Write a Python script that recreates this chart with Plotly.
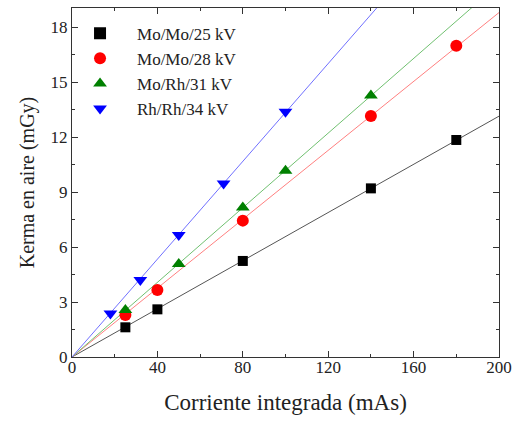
import plotly.graph_objects as go
import numpy as np

names = ["Mo/Mo/25 kV", "Mo/Mo/28 kV", "Mo/Rh/31 kV", "Rh/Rh/34 kV"]
x_mo25 = [25, 40, 80, 140, 180]
y_mo25 = [1.62, 2.6, 5.24, 9.2, 11.84]
x_mo28 = [25, 40, 80, 140, 180]
y_mo28 = [2.29, 3.65, 7.44, 13.15, 16.98]
x_rh31 = [25, 50, 80, 100, 140]
y_rh31 = [2.56, 5.07, 8.16, 10.16, 14.26]
x_rh34 = [18, 32, 50, 71, 100]
y_rh34 = [2.38, 4.2, 6.65, 9.47, 13.38]

series = [(x_mo25, y_mo25), (x_mo28, y_mo28), (x_rh31, y_rh31), (x_rh34, y_rh34)]
mcolors = ["#000000", "#ff0000", "#008000", "#0000ff"]
lcolors = ["#555555", "#ff8080", "#70c070", "#7070ff"]
symbols = ["square", "circle", "triangle-up", "triangle-down"]
sizes = [10, 12, 12, 12]

fig = go.Figure()
xfit = np.array([0, 200])
for (xs, ys), lc in zip(series, lcolors):
    xa, ya = np.array(xs, float), np.array(ys, float)
    k = (xa @ ya) / (xa @ xa)
    fig.add_trace(go.Scatter(x=xfit, y=k * xfit, mode="lines",
                             line=dict(color=lc, width=1), showlegend=False, hoverinfo="skip"))
for (xs, ys), n, mc, s, sz in zip(series, names, mcolors, symbols, sizes):
    fig.add_trace(go.Scatter(x=xs, y=ys, mode="markers", name=n,
                             marker=dict(color=mc, symbol=s, size=sz, line=dict(width=0))))

font = "Liberation Serif, Times New Roman, serif"
axis_common = dict(showline=True, linecolor="#333", linewidth=1.2, mirror="ticks",
                   ticks="inside", ticklen=6, tickwidth=1, tickcolor="#333",
                   showgrid=False, zeroline=False, automargin=False,
                   tickfont=dict(family=font, size=17, color="#222"))
fig.update_layout(
    width=513, height=424,
    margin=dict(l=72, r=14, t=8, b=67),
    plot_bgcolor="white", paper_bgcolor="white",
    xaxis=dict(range=[0, 200], tickvals=[0, 40, 80, 120, 160, 200],
               minor=dict(tickvals=[20, 60, 100, 140, 180], ticks="inside", ticklen=3, tickcolor="#333"),
               ticklabelstandoff=-6,
               title=dict(text="Corriente integrada (mAs)", font=dict(family=font, size=23, color="#222"), standoff=18),
               **axis_common),
    yaxis=dict(range=[0, 19.04], tickvals=[0, 3, 6, 9, 12, 15, 18],
               minor=dict(tickvals=[1.5, 4.5, 7.5, 10.5, 13.5, 16.5], ticks="inside", ticklen=3, tickcolor="#333"),
               title=dict(text="Kerma en aire (mGy)", font=dict(family=font, size=20, color="#222"), standoff=10),
               **axis_common),
    legend=dict(x=-0.021, y=0.978, xanchor="left", yanchor="top", bgcolor="rgba(0,0,0,0)",
                font=dict(family=font, size=17, color="#222"), tracegroupgap=0,
                itemsizing="constant", itemwidth=64),
)
fig.write_html("out.html", config={"displayModeBar": False},
               post_script="document.body.style.margin='0';document.body.style.overflow='hidden';")
